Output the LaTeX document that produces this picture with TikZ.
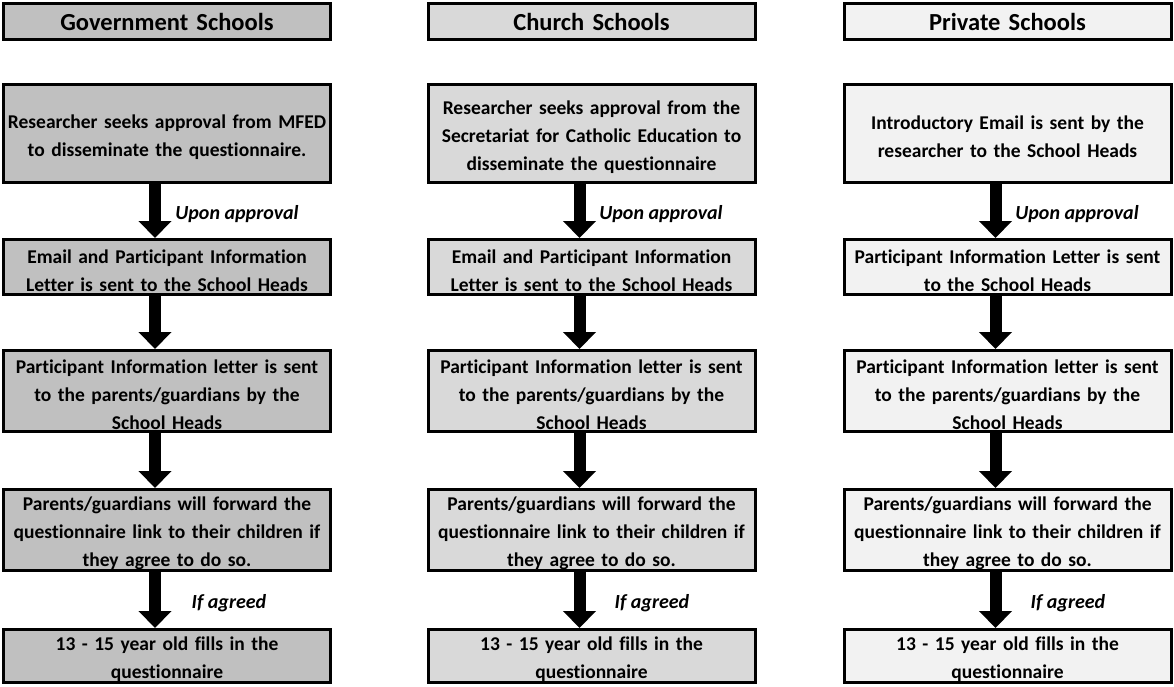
\documentclass[tikz,border=0pt]{standalone}
\usepackage{fontspec}
\setmainfont{Carlito}[Ligatures=NoCommon]
\usetikzlibrary{arrows.meta}
\definecolor{govfill}{HTML}{C0C0C0}
\definecolor{churchfill}{HTML}{D9D9D9}
\definecolor{privfill}{HTML}{F2F2F2}
\tikzset{
  frame/.style={draw=black, line width=3pt, rectangle, minimum width=327pt,
    text width=324pt, align=center, inner sep=0pt},
  box/.style={frame, font=\bfseries\fontsize{19.5}{28}\selectfont,
    execute at begin node={\rule{0pt}{21pt}}},
  header/.style={frame, font=\bfseries\fontsize{24.5}{28}\selectfont},
  flow/.style={line width=12pt, -{Triangle[width=32pt,length=17pt]}},
  note/.style={font=\bfseries\itshape\fontsize{20}{22}\selectfont, anchor=center},
}
\begin{document}
\begin{tikzpicture}[x=1pt,y=-1pt]
\useasboundingbox (0,0) rectangle (1174,686);

% Government schools column
\node[header, fill=govfill, minimum height=36pt] (gh) at (167,21.5) {Government Schools};
\node[box, fill=govfill, minimum height=98pt] (g1) at (167,133.5) {Researcher seeks approval from MFED\\to disseminate the questionnaire.};
\node[box, fill=govfill, minimum height=55pt] (g2) at (167,267) {Email and Participant Information\\Letter is sent to the School Heads};
\node[box, fill=govfill, minimum height=81pt] (g3) at (167,391) {Participant Information letter is sent\\to the parents/guardians by the\\School Heads};
\node[box, fill=govfill, minimum height=81pt] (g4) at (167,530) {Parents/guardians will forward the\\questionnaire link to their children if\\they agree to do so.};
\node[box, fill=govfill, minimum height=53pt] (g5) at (167,656) {13 - 15 year old fills in the\\questionnaire};

% Church schools column
\node[header, fill=churchfill, minimum height=36pt] (ch) at (591.5,21.5) {Church Schools};
\node[box, fill=churchfill, minimum height=98pt] (c1) at (591.5,133.5) {Researcher seeks approval from the\\Secretariat for Catholic Education to\\disseminate the questionnaire};
\node[box, fill=churchfill, minimum height=55pt] (c2) at (591.5,267) {Email and Participant Information\\Letter is sent to the School Heads};
\node[box, fill=churchfill, minimum height=81pt] (c3) at (591.5,391) {Participant Information letter is sent\\to the parents/guardians by the\\School Heads};
\node[box, fill=churchfill, minimum height=81pt] (c4) at (591.5,530) {Parents/guardians will forward the\\questionnaire link to their children if\\they agree to do so.};
\node[box, fill=churchfill, minimum height=53pt] (c5) at (591.5,656) {13 - 15 year old fills in the\\questionnaire};

% Private schools column
\node[header, fill=privfill, minimum height=36pt] (ph) at (1007.5,21.5) {Private Schools};
\node[box, fill=privfill, minimum height=98pt] (p1) at (1007.5,133.5) {Introductory Email is sent by the\\researcher to the School Heads};
\node[box, fill=privfill, minimum height=55pt] (p2) at (1007.5,267) {Participant Information Letter is sent\\to the School Heads};
\node[box, fill=privfill, minimum height=81pt] (p3) at (1007.5,391) {Participant Information letter is sent\\to the parents/guardians by the\\School Heads};
\node[box, fill=privfill, minimum height=81pt] (p4) at (1007.5,530) {Parents/guardians will forward the\\questionnaire link to their children if\\they agree to do so.};
\node[box, fill=privfill, minimum height=53pt] (p5) at (1007.5,656) {13 - 15 year old fills in the\\questionnaire};

% Flow arrows
\foreach \k in {g,c,p}{
  \draw[flow] ([xshift=-12pt]\k1.south) -- ([xshift=-12pt]\k2.north);
  \draw[flow] ([xshift=-12pt]\k2.south) -- ([xshift=-12pt]\k3.north);
  \draw[flow] ([xshift=-12pt]\k3.south) -- ([xshift=-12pt]\k4.north);
  \draw[flow] ([xshift=-12pt]\k4.south) -- ([xshift=-12pt]\k5.north);
}

% Arrow conditions
\node[note] (ga) at (237,214) {Upon approval};
\node[note] (ca) at (661,214) {Upon approval};
\node[note] (pa) at (1077,214) {Upon approval};
\node[note] (gb) at (229,603) {If agreed};
\node[note] (cb) at (652,603) {If agreed};
\node[note] (pb) at (1068,603) {If agreed};
\end{tikzpicture}
\end{document}
